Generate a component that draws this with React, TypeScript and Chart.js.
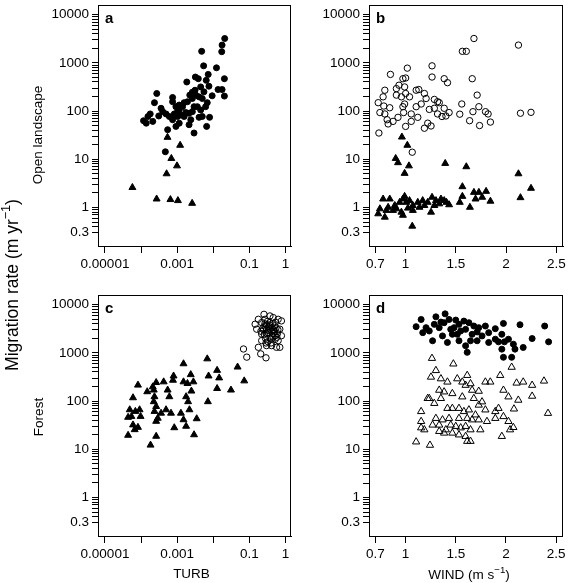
import React, { useEffect, useRef } from 'react';
import { Chart, registerables } from 'chart.js';

Chart.register(...registerables);

const FONT = "'Liberation Sans', Arial, Helvetica, sans-serif";
Chart.defaults.font.family = FONT;
Chart.defaults.color = '#000';

// ---------- axis ticks ----------
const RATE_TICKS = [
  0.3, 0.4, 0.5, 0.6, 0.7, 0.8, 0.9,
  1, 2, 3, 4, 5, 6, 7, 8, 9,
  10, 20, 30, 40, 50, 60, 70, 80, 90,
  100, 200, 300, 400, 500, 600, 700, 800, 900,
  1000, 2000, 3000, 4000, 5000, 6000, 7000, 8000, 9000,
  10000,
];
const RATE_LABELED = [0.3, 1, 10, 100, 1000, 10000];
const RATE_MIN = 0.159;
const RATE_MAX = 15800;

const TURB_TICKS = [0.00001, 0.0001, 0.001, 0.01, 0.1, 1];
const TURB_LABELS = ['0.00001', '', '0.001', '', '0.1', '1'];
const TURB_MIN = 6.4e-6;
const TURB_MAX = 1.43;

const WIND_TICKS = [0.7, 1, 1.5, 2, 2.5];
const WIND_LABELS = ['0.7', '1', '1.5', '2', '2.5'];
const WIND_MIN = 0.6355;
const WIND_MAX = 2.5665;

// ---------- panel a: open landscape vs TURB ----------
const aCircleTurb = [
  0.0208, 0.0176, 0.0172, 0.00478, 0.0123, 0.00542, 0.0204, 0.0032, 0.00386, 0.00726,
  0.0064, 0.00185, 0.0076, 0.00449, 0.00313, 0.0136, 0.0176, 0.0204, 0.00933, 0.00224,
  0.00264, 0.00327, 0.00404, 0.000272, 0.000235, 0.000748, 0.000748, 0.000925, 0.00156, 0.00141,
  0.00114, 0.000358, 0.000398, 0.000492, 0.000832, 0.00103, 0.00127, 0.00174, 0.00214, 0.00264,
  0.00363, 0.00449, 0.00615, 0.00683, 0.000179, 0.000155, 0.000117, 0.000139, 0.000211, 0.000309,
  0.000607, 0.000748, 0.000925, 0.00114, 0.00214, 0.00239, 0.00404, 0.00497, 0.00792, 0.00656,
  0.00294, 0.000545, 0.000471, 0.00264, 0.00193, 0.00114, 0.00103, 0.00156, 0.00294, 0.00497,
  0.00553,
];
const aCircleRate = [
  3190, 2330, 1700, 1730, 787, 865, 468, 507, 468, 575,
  433, 400, 327, 316, 270, 279, 279, 204, 207, 214,
  182, 214, 197, 231, 149, 191, 156, 123, 149, 123,
  105, 114, 97, 87, 87, 77, 83, 93, 90, 97,
  123, 105, 123, 149, 87, 77, 63, 56, 61, 79,
  77, 66, 48, 56, 52, 66, 74, 77, 74, 48,
  35, 41, 14.3, 246, 156, 133, 97, 77, 123, 182,
  250,
];
const aTriangleTurb = [0.00054, 0.00121, 0.00069, 0.00099, 0.00051, 0.0000575, 0.00027, 0.00065, 0.00105, 0.0026];
const aTriangleRate = [28.5, 19.5, 10.4, 7.3, 5.0, 2.6, 1.5, 1.46, 1.39, 1.22];

// ---------- panel b: open landscape vs WIND ----------
const bCircleWind = [
  1.68, 2.123, 1.565, 1.604, 1.017, 1.263, 0.849, 1.263, 1.384, 1.417,
  1.663, 0.973, 1.0, 0.793, 0.908, 0.934, 0.99, 1.0, 1.039, 1.105,
  1.131, 1.187, 1.204, 0.776, 0.908, 0.958, 0.727, 0.842, 0.783, 0.744,
  0.793, 0.816, 0.826, 0.875, 0.924, 0.973, 0.99, 0.98, 1.056, 1.056,
  1.121, 1.105, 1.155, 1.236, 1.286, 1.318, 1.335, 1.286, 1.318, 1.384,
  1.401, 1.433, 1.362, 1.22, 1.187, 1.253, 1.0, 0.734, 1.539, 1.559,
  1.67, 1.712, 1.729, 1.795, 1.821, 1.637, 1.736, 1.844, 2.143, 2.248,
  1.066,
];
const bCircleRate = [
  3190, 2330, 1730, 1730, 775, 865, 575, 507, 468, 387,
  468, 468, 484, 270, 292, 343, 316, 231, 197, 270,
  279, 231, 182, 197, 214, 197, 149, 117, 127, 93,
  87, 66, 54, 61, 74, 123, 140, 93, 61, 87,
  74, 123, 140, 108, 174, 156, 149, 114, 87, 114,
  79, 93, 77, 56, 44, 49, 48, 35, 86, 140,
  97, 214, 123, 97, 87, 63, 50, 59, 90, 94,
  14,
];
const bTriangleWind = [
  0.963, 1.017, 0.901, 0.924, 1.033, 0.99, 1.394, 1.604, 2.123, 1.565,
  2.248, 2.143, 1.565, 1.539, 1.64, 1.68, 1.729, 1.801, 1.844, 1.696,
  1.762, 0.776, 0.842, 0.744, 0.727, 0.793, 0.826, 0.892, 0.941, 0.973,
  0.99, 1.007, 1.039, 0.958, 0.973, 1.023, 1.072, 1.121, 1.138, 1.187,
  1.22, 1.263, 1.286, 1.253, 1.302, 1.335, 1.384, 1.407, 1.433, 1.066,
  0.809, 0.875, 0.908, 1.072, 1.17, 1.352,
];
const bTriangleRate = [
  28.9, 19.5, 10.4, 8.5, 7.3, 5.1, 8.2, 7.0, 5.0, 2.7,
  2.5, 1.6, 1.7, 1.28, 1.01, 2.06, 2.06, 2.16, 1.35, 1.5,
  1.63, 1.5, 1.5, 0.94, 0.74, 0.63, 1.01, 1.1, 1.28, 1.5,
  1.7, 1.28, 1.39, 0.8, 0.69, 0.97, 1.1, 1.28, 1.01, 1.1,
  1.28, 1.63, 1.1, 0.8, 1.39, 1.19, 1.39, 1.28, 1.14, 0.41,
  0.87, 0.87, 0.94, 0.87, 1.39, 1.5,
];

// ---------- panel c: forest vs TURB ----------
const cTriangleTurb = [
  0.0015, 0.00683, 0.0473, 0.0723, 0.031, 0.0128, 0.00711, 0.0128, 0.0146, 0.00743,
  0.00238, 0.00282, 0.00193, 0.0015, 0.00248, 0.00177, 0.00201, 0.00219, 0.00348, 0.00177,
  0.00294, 0.000796, 0.000766, 0.000423, 0.000262, 0.000211, 0.000148, 0.000082, 0.0000598, 0.000545,
  0.000607, 0.000235, 0.000225, 0.000262, 0.000235, 0.00029, 0.000358, 0.000492, 0.000675, 0.00127,
  0.0015, 0.000832, 0.000262, 0.000183, 0.0000437, 0.0000665, 0.0000598, 0.000082, 0.0000485, 0.000054,
  0.000091, 0.000097, 0.0000437, 0.000262, 0.0000695, 0.000225,
];
const cTriangleRate = [
  593, 750, 507, 262, 169, 182, 97, 433, 302, 331,
  353, 250, 231, 250, 161, 123, 97, 66, 43, 30,
  20, 331, 270, 250, 242, 197, 156, 214, 117, 169,
  123, 123, 97, 77, 61, 44, 56, 66, 56, 56,
  41, 28, 18.6, 12.2, 19.5, 25.5, 32, 28.5, 66, 48,
  66, 48, 46, 38, 61, 169,
];
const cCircleTurb = [
  0.255, 0.46, 0.776, 0.178, 0.16, 0.22, 0.178, 0.207, 0.29, 0.413,
  0.568, 0.7, 0.413, 0.63, 0.272, 0.335, 0.51, 0.7, 0.069, 0.085,
  0.272, 0.373, 0.51, 0.22, 0.3, 0.46, 0.3, 0.776, 0.145, 0.22,
  0.373, 0.63, 0.25, 0.3, 0.35, 0.4, 0.45, 0.28, 0.33, 0.38,
  0.42, 0.5, 0.55, 0.6, 0.24, 0.27, 0.32, 0.36, 0.44, 0.48,
  0.52, 0.58, 0.62, 0.4, 0.3, 0.26, 0.34, 0.46, 0.38, 0.29,
  0.53, 0.21,
];
const cCircleRate = [
  6280, 5370, 4590, 4950, 3090, 1790, 1300, 950, 787, 1410,
  1300, 1300, 1930, 1790, 3620, 2640, 3620, 3090, 1200, 813,
  4950, 4240, 2260, 2440, 1410, 2860, 3090, 2260, 3920, 4240,
  5810, 4950, 3000, 2500, 3500, 2800, 2200, 2000, 1700, 2000,
  3300, 2700, 3300, 2500, 3300, 4000, 4500, 3800, 4000, 3000,
  1900, 2100, 3000, 1600, 3800, 2400, 2900, 2500, 3100, 1600,
  4300, 2800,
];

// ---------- panel d: forest vs WIND ----------
const dCircleWind = [
  1.105, 1.155, 1.302, 1.394, 1.236, 1.269, 1.335, 1.384, 1.433, 1.5,
  1.532, 1.581, 1.631, 1.68, 1.729, 1.795, 1.894, 1.975, 2.14, 2.386,
  2.425, 2.261, 2.172, 2.074, 2.025, 1.959, 1.926, 1.894, 1.959, 1.975,
  2.057, 1.614, 1.598, 1.647, 1.532, 1.417, 1.466, 1.368, 1.204, 1.171,
  1.286, 1.549, 1.713, 1.762, 1.828, 1.713, 1.663, 1.483, 1.352, 2.09,
  1.985, 1.45, 1.598, 1.515, 1.828,
];
const dCircleRate = [
  3510, 4950, 5620, 6480, 2860, 1790, 3350, 4240, 4950, 4810,
  3920, 4590, 4240, 3620, 3350, 3620, 3190, 4100, 3850, 3620,
  1700, 1990, 1300, 1520, 1930, 2440, 1700, 1930, 1200, 813,
  813, 1030, 1410, 1790, 1790, 1650, 2440, 2260, 3350, 2640,
  3920, 2860, 1790, 2260, 2640, 2730, 2440, 3350, 4380, 1200,
  1700, 3090, 3090, 2440, 1650,
];
const dTriangleWind = [
  1.263, 1.476, 1.302, 1.253, 1.352, 1.417, 1.515, 1.565, 1.614, 1.598,
  1.663, 1.729, 1.647, 1.795, 1.844, 1.943, 2.057, 2.106, 2.172, 2.261,
  2.379, 1.975, 2.025, 2.123, 2.261, 2.419, 2.08, 1.926, 1.894, 1.795,
  1.729, 1.68, 1.762, 1.565, 1.466, 1.384, 1.335, 1.236, 1.286, 1.352,
  1.417, 1.466, 1.532, 1.581, 1.631, 1.696, 1.532, 1.614, 1.663, 1.729,
  1.433, 1.368, 1.302, 1.269, 1.335, 1.401, 1.45, 1.5, 1.549, 1.598,
  1.647, 1.745, 1.811, 1.894, 1.975, 2.025, 2.074, 2.041, 1.959, 1.155,
  1.155, 1.155, 1.187, 1.105, 1.243, 1.598, 1.614, 1.647, 1.532, 1.466,
  1.384, 1.335, 1.22,
];
const dTriangleRate = [
  775, 593, 433, 316, 292, 250, 292, 250, 343, 214,
  169, 161, 231, 250, 250, 343, 507, 238, 250, 214,
  262, 169, 123, 105, 127, 56, 69, 71, 61, 66,
  83, 114, 97, 123, 144, 156, 169, 114, 90, 114,
  71, 71, 71, 61, 66, 52, 44, 44, 41, 41,
  44, 41, 44, 32, 32, 25.5, 32, 30, 28, 30,
  25.5, 25.5, 38, 44, 48, 38, 28.5, 25.5, 18.6, 61,
  38, 28, 25.5, 14.3, 12.2, 18.6, 14.7, 14.7, 20, 21.8,
  21.8, 23.6, 114,
];

// ---------- helpers ----------
const TICK_LEN = 6;

type Marker = 'filledCircle' | 'openCircle' | 'filledTriangle' | 'openTriangle';
type Series = { xs: number[]; ys: number[]; marker: Marker };
type Segment = { text: string; sup?: boolean };
type TextItem = { segments: Segment[]; x: number; y: number; size: number; rotate?: boolean };

const buildDataset = (s: Series) => {
  const circle = s.marker === 'filledCircle' || s.marker === 'openCircle';
  const filled = s.marker === 'filledCircle' || s.marker === 'filledTriangle';
  return {
    data: s.xs.map((x, i) => ({ x, y: s.ys[i] })),
    pointStyle: circle ? 'circle' : 'triangle',
    pointRadius: circle ? (filled ? 3 : 3.2) : (filled ? 4 : 4.2),
    borderWidth: 1,
    backgroundColor: filled ? '#000' : 'rgba(0,0,0,0)',
    borderColor: '#000',
  };
};

const drawText = (ctx: CanvasRenderingContext2D, item: TextItem) => {
  const supSize = item.size * 0.72;
  const widths = item.segments.map((sg) => {
    ctx.font = `${sg.sup ? supSize : item.size}px ${FONT}`;
    return ctx.measureText(sg.text).width;
  });
  const total = widths.reduce((s, w) => s + w, 0);
  ctx.save();
  ctx.translate(item.x, item.y);
  if (item.rotate) ctx.rotate(-Math.PI / 2);
  ctx.textAlign = 'left';
  ctx.textBaseline = 'alphabetic';
  ctx.fillStyle = '#000';
  let cx = -total / 2;
  const base = item.size * 0.36;
  item.segments.forEach((sg, i) => {
    ctx.font = `${sg.sup ? supSize : item.size}px ${FONT}`;
    ctx.fillText(sg.text, cx, sg.sup ? base - item.size * 0.42 : base);
    cx += widths[i];
  });
  ctx.restore();
};

// box, outward tick marks on every scale tick, panel letter, outer titles
const makeFramePlugin = (letter: string, texts: TextItem[]) => ({
  id: 'panelFrame',
  afterDraw(chart: any) {
    const { ctx, chartArea: a } = chart;
    const xs = chart.scales.x;
    const ys = chart.scales.y;
    ctx.save();
    ctx.strokeStyle = '#000';
    ctx.lineWidth = 1;
    const lc = Math.round(a.left);
    const tr = Math.round(a.top);
    const rc = Math.round(a.right) - 1;
    const br = Math.round(a.bottom);
    ctx.strokeRect(lc + 0.5, tr + 0.5, rc - lc, br - tr);
    ctx.fillStyle = '#000';
    for (const tk of ys.ticks) {
      const py = ys.getPixelForValue(tk.value);
      ctx.fillRect(lc - TICK_LEN, Math.round(py - 0.5), TICK_LEN, 1);
    }
    for (const tk of xs.ticks) {
      const px = xs.getPixelForValue(tk.value);
      ctx.fillRect(Math.round(px - 0.5), br + 1, 1, TICK_LEN);
    }
    ctx.font = `bold 15px ${FONT}`;
    ctx.textBaseline = 'alphabetic';
    ctx.textAlign = 'left';
    ctx.fillText(letter, a.left + 7, a.top + 18);
    ctx.restore();
    texts.forEach((t) => drawText(ctx, t));
  },
});

type Area = { left: number; top: number; right: number; bottom: number };
type PanelProps = {
  left: number; top: number; width: number; height: number; area: Area;
  xType: 'linear' | 'logarithmic'; xMin: number; xMax: number;
  xTicks: number[]; xLabels: string[]; series: Series[]; letter: string; texts: TextItem[];
};

function Panel(p: PanelProps) {
  const ref = useRef<HTMLCanvasElement>(null);
  useEffect(() => {
    const chart = new Chart(ref.current as HTMLCanvasElement, {
      type: 'scatter',
      data: { datasets: p.series.map(buildDataset) as any },
      plugins: [makeFramePlugin(p.letter, p.texts) as any],
      options: {
        animation: false,
        responsive: false,
        devicePixelRatio: 1,
        events: [],
        layout: { padding: { left: 0, top: p.area.top, right: p.width - p.area.right, bottom: 0 } },
        plugins: {
          legend: { display: false },
          tooltip: { enabled: false },
        },
        scales: {
          x: {
            type: p.xType,
            min: p.xMin,
            max: p.xMax,
            bounds: 'data',
            afterBuildTicks: (s: any) => { s.ticks = p.xTicks.map((v) => ({ value: v })); },
            afterFit: (s: any) => { s.height = p.height - p.area.bottom; s.paddingLeft = 0; s.paddingRight = 0; },
            ticks: {
              autoSkip: false, maxRotation: 0, padding: 4, font: { size: 13.5 },
              callback: (_v: any, i: number) => p.xLabels[i],
            },
            grid: { display: true, drawOnChartArea: false, tickLength: 6, color: '#000' },
            border: { color: '#000' },
          } as any,
          y: {
            type: 'logarithmic',
            min: RATE_MIN,
            max: RATE_MAX,
            bounds: 'data',
            afterBuildTicks: (s: any) => { s.ticks = RATE_TICKS.map((v) => ({ value: v })); },
            afterFit: (s: any) => { s.width = p.area.left; s.paddingTop = 0; s.paddingBottom = 0; },
            ticks: {
              autoSkip: false, padding: 3, font: { size: 13.5 },
              callback: (v: any) => (RATE_LABELED.includes(Number(v)) ? String(v) : ''),
            },
            grid: { display: true, drawOnChartArea: false, tickLength: 6, color: '#000' },
            border: { color: '#000' },
          } as any,
        },
      },
    });
    return () => chart.destroy();
  }, []);
  return (
    <canvas
      ref={ref}
      width={p.width}
      height={p.height}
      style={{ position: 'absolute', left: p.left, top: p.top, width: p.width, height: p.height, display: 'block' }}
    />
  );
}

const MIGRATION: Segment[] = [{ text: 'Migration rate (m yr' }, { text: '−1', sup: true }, { text: ')' }];
const WIND_TITLE: Segment[] = [{ text: 'WIND (m s' }, { text: '−1', sup: true }, { text: ')' }];

export default function App() {
  const areaLeftCol = { left: 98, top: 2, right: 293, bottom: 246 };
  const areaRightCol = { left: 73, top: 2, right: 269, bottom: 246 };
  return (
    <div style={{ position: 'fixed', left: 0, top: 0, width: 568, height: 583, background: '#fff', overflow: 'hidden' }}>
      <Panel left={0} top={0} width={296} height={290} area={areaLeftCol} xType="logarithmic"
        xMin={TURB_MIN} xMax={TURB_MAX} xTicks={TURB_TICKS} xLabels={TURB_LABELS} letter="a"
        series={[
          { xs: aCircleTurb, ys: aCircleRate, marker: 'filledCircle' },
          { xs: aTriangleTurb, ys: aTriangleRate, marker: 'filledTriangle' },
        ]}
        texts={[
          { segments: MIGRATION, x: 11.5, y: 285, size: 17.5, rotate: true },
          { segments: [{ text: 'Open landscape' }], x: 37.5, y: 135, size: 13.5, rotate: true },
        ]} />
      <Panel left={296} top={0} width={272} height={290} area={areaRightCol} xType="linear"
        xMin={WIND_MIN} xMax={WIND_MAX} xTicks={WIND_TICKS} xLabels={WIND_LABELS} letter="b"
        series={[
          { xs: bCircleWind, ys: bCircleRate, marker: 'openCircle' },
          { xs: bTriangleWind, ys: bTriangleRate, marker: 'filledTriangle' },
        ]}
        texts={[]} />
      <Panel left={0} top={290} width={296} height={293} area={areaLeftCol} xType="logarithmic"
        xMin={TURB_MIN} xMax={TURB_MAX} xTicks={TURB_TICKS} xLabels={TURB_LABELS} letter="c"
        series={[
          { xs: cTriangleTurb, ys: cTriangleRate, marker: 'filledTriangle' },
          { xs: cCircleTurb, ys: cCircleRate, marker: 'openCircle' },
        ]}
        texts={[
          { segments: MIGRATION, x: 11.5, y: -5, size: 17.5, rotate: true },
          { segments: [{ text: 'Forest' }], x: 38, y: 127, size: 13.5, rotate: true },
          { segments: [{ text: 'TURB' }], x: 191.5, y: 283, size: 13.5 },
        ]} />
      <Panel left={296} top={290} width={272} height={293} area={areaRightCol} xType="linear"
        xMin={WIND_MIN} xMax={WIND_MAX} xTicks={WIND_TICKS} xLabels={WIND_LABELS} letter="d"
        series={[
          { xs: dCircleWind, ys: dCircleRate, marker: 'filledCircle' },
          { xs: dTriangleWind, ys: dTriangleRate, marker: 'openTriangle' },
        ]}
        texts={[
          { segments: WIND_TITLE, x: 173, y: 284, size: 13.5 },
        ]} />
    </div>
  );
}
